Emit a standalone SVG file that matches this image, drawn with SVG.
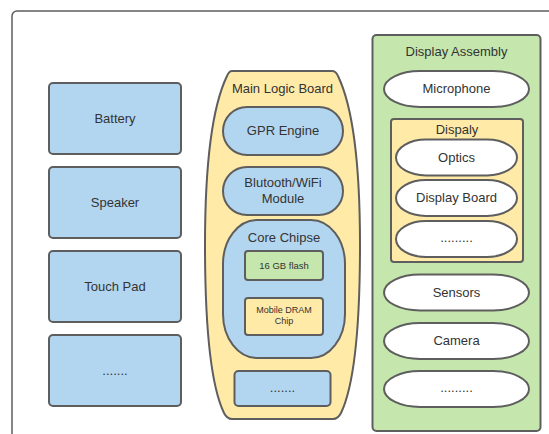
<svg xmlns="http://www.w3.org/2000/svg" width="549" height="434" viewBox="0 0 549 434">
<style>
text{font-family:"Liberation Sans",Arial,sans-serif;fill:#333;text-anchor:middle;dominant-baseline:central;font-size:13px}
.s{stroke:#5e5e5e;stroke-width:2}
.blue{fill:#b3d6f0}
.yel{fill:#ffeaa8}
.grn{fill:#c5e7ad}
.wht{fill:#fff}
.sm{font-size:9.5px}
.xs{font-size:9px}
</style>
<rect x="12" y="11" width="560" height="450" rx="5" fill="#fff" stroke="#5e5e5e" stroke-width="1.5"/>
<g id="battery"><rect class="s blue" x="49" y="83" width="132" height="71" rx="4"/><text x="115" y="118">Battery</text></g>
<g id="speaker"><rect class="s blue" x="49" y="167" width="132" height="71" rx="4"/><text x="115" y="202">Speaker</text></g>
<g id="touchpad"><rect class="s blue" x="49" y="251" width="132" height="71" rx="4"/><text x="115" y="286">Touch Pad</text></g>
<g id="left-more"><rect class="s blue" x="49" y="335" width="132" height="71" rx="4"/><text x="115" y="370">.......</text></g>
<g id="main-logic-board">
<path class="s yel" d="M232 71 H332 Q336 71 338 76 C352 105 360 160 360 245 C360 330 353 388 341 413 Q338 419 333 419 H232 Q227 419 224 413 C212 388 205 330 205 245 C205 160 213 105 227 76 Q229 71 232 71 Z"/>
<text x="282.5" y="88">Main Logic Board</text>
</g>
<g id="gpr-engine"><rect class="s blue" x="223" y="107" width="120" height="48" rx="24"/><text x="283" y="130">GPR Engine</text></g>
<g id="bluetooth"><rect class="s blue" x="223" y="167" width="120" height="48" rx="24"/><text x="283" y="182">Blutooth/WiFi</text><text x="283" y="198">Module</text></g>
<g id="core-chipse"><rect class="s blue" x="223" y="220" width="122" height="138" rx="34" ry="44"/><text x="284" y="237">Core Chipse</text></g>
<g id="flash"><rect class="s grn" x="245" y="251" width="78" height="29" rx="3"/><text class="sm" x="284" y="265.5">16 GB flash</text></g>
<g id="dram"><rect class="s yel" x="245" y="298" width="78" height="37" rx="3"/><text class="xs" x="284" y="310">Mobile DRAM</text><text class="xs" x="284" y="321">Chip</text></g>
<g id="mlb-more"><rect class="s blue" x="234.5" y="371" width="96" height="35" rx="4"/><text x="282.5" y="387">.......</text></g>
<g id="display-assembly"><rect class="s grn" x="372.5" y="35" width="168" height="396" rx="4"/><text x="456.5" y="51.5">Display Assembly</text></g>
<g id="microphone"><rect class="s wht" x="384" y="71" width="145" height="36" rx="36" ry="18"/><text x="456.5" y="88">Microphone</text></g>
<g id="dispaly"><rect class="s yel" x="391" y="119" width="132" height="143" rx="3"/><text x="457" y="129.5">Dispaly</text></g>
<g id="optics"><rect class="s wht" x="396" y="139.5" width="121" height="36" rx="30" ry="18"/><text x="456.5" y="157">Optics</text></g>
<g id="display-board"><rect class="s wht" x="396" y="180" width="121" height="36" rx="30" ry="18"/><text x="456.5" y="197.5">Display Board</text></g>
<g id="dispaly-more"><rect class="s wht" x="396" y="221" width="121" height="36" rx="30" ry="18"/><text x="456.5" y="237">.........</text></g>
<g id="sensors"><rect class="s wht" x="384" y="274.5" width="145" height="36" rx="36" ry="18"/><text x="456.5" y="292">Sensors</text></g>
<g id="camera"><rect class="s wht" x="384" y="323" width="145" height="36" rx="36" ry="18"/><text x="456.5" y="340">Camera</text></g>
<g id="da-more"><rect class="s wht" x="384" y="371" width="145" height="36" rx="36" ry="18"/><text x="456.5" y="387">.........</text></g>
<g id="connectors"></g>
</svg>
